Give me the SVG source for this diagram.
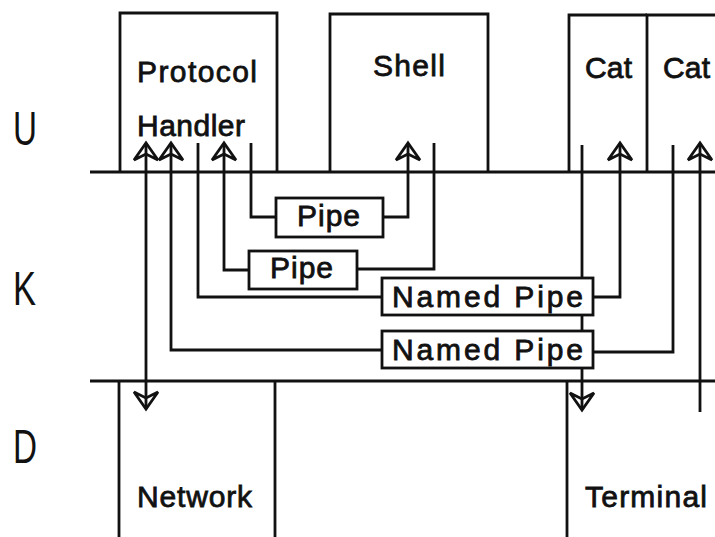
<svg xmlns="http://www.w3.org/2000/svg" width="715" height="537" viewBox="0 0 715 537">
<style>
.ln{fill:none;stroke:#111;stroke-width:2.8;stroke-linejoin:miter;stroke-linecap:butt}
.bx{fill:#fff;stroke:#111;stroke-width:2.8}
.t{font-family:"Liberation Sans",Arial,sans-serif;font-size:30px;fill:#111;stroke:#111;stroke-width:0.8}
.lay{font-family:"Liberation Sans",Arial,sans-serif;font-size:48px;fill:#111}
.con{fill:none;stroke:#111;stroke-width:2.8}
.ah{marker-end:url(#ar)}
</style>
<defs>
<marker id="ar" markerUnits="userSpaceOnUse" viewBox="-2 -14 22 28" markerWidth="22" markerHeight="28" refX="17" refY="0" orient="auto-start-reverse">
<path d="M0,-12 L17,0 L0,12 L6,0 Z" fill="none" stroke="#111" stroke-width="2.8" stroke-linejoin="miter"/>
</marker>
</defs>
<rect width="715" height="537" fill="#fff"/>

<g id="layers">
<line class="ln" x1="90" y1="172" x2="715" y2="172"/>
<line class="ln" x1="90" y1="381" x2="715" y2="381"/>
<text class="lay" x="13" y="145" textLength="24" lengthAdjust="spacingAndGlyphs">U</text>
<text class="lay" x="13" y="305" textLength="23" lengthAdjust="spacingAndGlyphs">K</text>
<text class="lay" x="13" y="463" textLength="24" lengthAdjust="spacingAndGlyphs">D</text>
</g>

<g id="connectors">
<path class="con" d="M146,409 L146,143" marker-start="url(#ar)" marker-end="url(#ar)"/>
<path class="con ah" d="M382,350 L171,350 L171,143"/>
<path class="con" d="M198,143 L198,297 L382,297"/>
<path class="con ah" d="M249,270 L224,270 L224,143"/>
<path class="con" d="M251,143 L251,217 L276,217"/>
<path class="con ah" d="M383,217 L408,217 L408,143"/>
<path class="con" d="M434,143 L434,269 L357,269"/>
<path class="con ah" d="M582,145 L582,410"/>
<path class="con ah" d="M593,297 L620,297 L620,143"/>
<path class="con" d="M673,145 L673,352 L593,352"/>
<path class="con ah" d="M700,412 L700,143"/>
</g>

<g id="protocol-handler">
<path class="ln" d="M120,172 L120,13 L277,13 L277,172"/>
<text class="t" x="137" y="82" textLength="120" lengthAdjust="spacing">Protocol</text>
<text class="t" x="137" y="136" textLength="108" lengthAdjust="spacing">Handler</text>
</g>

<g id="shell">
<path class="ln" d="M330,172 L330,14 L488,14 L488,172"/>
<text class="t" x="373" y="76" textLength="72" lengthAdjust="spacing">Shell</text>
</g>

<g id="cat1">
<path class="ln" d="M569,172 L569,15 L647,15"/>
<text class="t" x="585" y="78" textLength="47" lengthAdjust="spacing">Cat</text>
</g>

<g id="cat2">
<path class="ln" d="M647,172 L647,15 L715,15"/>
<text class="t" x="663" y="78" textLength="47" lengthAdjust="spacing">Cat</text>
</g>

<g id="pipe1">
<rect class="bx" x="276" y="198" width="107" height="39"/>
<text class="t" x="297" y="226" textLength="63" lengthAdjust="spacing">Pipe</text>
</g>

<g id="pipe2">
<rect class="bx" x="249" y="251" width="108" height="38"/>
<text class="t" x="270" y="278" textLength="63" lengthAdjust="spacing">Pipe</text>
</g>

<g id="named-pipe1">
<rect class="bx" x="382" y="278" width="211" height="37"/>
<text class="t" x="392" y="307" textLength="191" lengthAdjust="spacing">Named Pipe</text>
</g>

<g id="named-pipe2">
<rect class="bx" x="382" y="331" width="211" height="37"/>
<text class="t" x="392" y="360" textLength="191" lengthAdjust="spacing">Named Pipe</text>
</g>

<g id="network">
<path class="ln" d="M119,381 L119,537 M275,381 L275,537"/>
<text class="t" x="137" y="507" textLength="115" lengthAdjust="spacing">Network</text>
</g>

<g id="terminal">
<path class="ln" d="M567,381 L567,537"/>
<text class="t" x="585" y="507" textLength="122" lengthAdjust="spacing">Terminal</text>
</g>
</svg>
